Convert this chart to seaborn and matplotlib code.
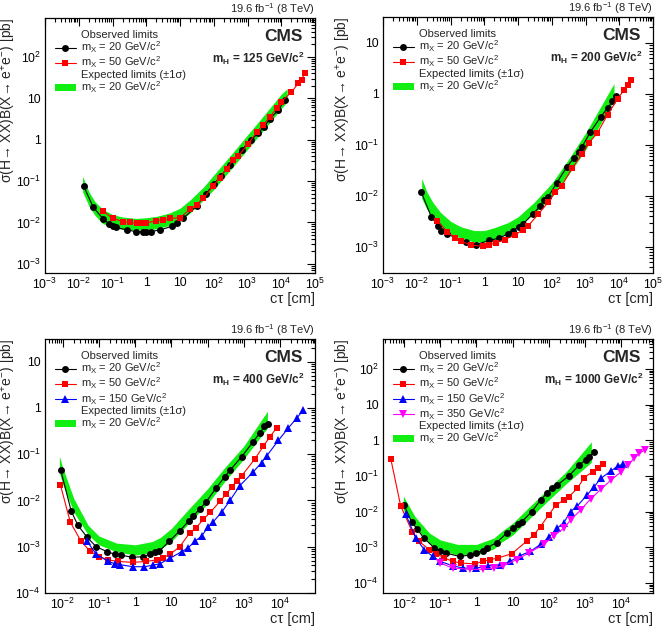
import numpy as np
import pandas as pd
import matplotlib
matplotlib.use("Agg")
import matplotlib.pyplot as plt
import seaborn as sns
from matplotlib.lines import Line2D
from matplotlib.patches import Patch
from matplotlib.ticker import LogLocator, FuncFormatter, NullFormatter

# ---- data ----
# mH = 125
ct_125_m20 = [0.014, 0.027, 0.054, 0.08, 0.105, 0.13, 0.26, 0.5, 0.8, 1.0, 1.35, 2.6, 5.6, 8, 12.5,
              31, 60, 100, 160, 300, 680, 1300, 2100, 3000, 4700, 8200, 13000]
xs_125_m20 = [0.075, 0.023, 0.012, 0.009, 0.0083, 0.0076, 0.0066, 0.006, 0.006, 0.006, 0.006, 0.0066,
              0.008, 0.0096, 0.0125, 0.025, 0.05, 0.085, 0.13, 0.25, 0.57, 1.0, 1.45, 2.0, 3.2, 5.3, 9]
ct_125_m50 = [0.051, 0.1, 0.21, 0.33, 0.52, 0.82, 1.0, 2.0, 3.2, 5, 10, 20, 31, 49, 97, 150, 240, 380,
              530, 1050, 1860, 2950, 4700, 7300, 10000, 20000, 32000, 40000, 50000]
xs_125_m50 = [0.019, 0.0127, 0.0104, 0.01, 0.0095, 0.0095, 0.0097, 0.011, 0.0117, 0.0125, 0.013, 0.021,
              0.027, 0.038, 0.076, 0.12, 0.2, 0.33, 0.4, 0.8, 1.5, 2.3, 3.6, 5.8, 8.3, 14, 23, 28, 40]
band_ct_125 = [0.013, 0.02, 0.03, 0.05, 0.1, 0.2, 0.5, 1, 2, 5, 10, 20, 50, 100, 300, 1000, 3000, 10000, 15000]
band_lo_125 = [0.055, 0.025, 0.015, 0.0095, 0.0075, 0.0068, 0.0065, 0.0066, 0.007, 0.0085, 0.011, 0.017,
               0.035, 0.062, 0.18, 0.58, 1.7, 5.6, 8.3]
band_hi_125 = [0.13, 0.055, 0.032, 0.021, 0.0155, 0.0135, 0.0125, 0.013, 0.014, 0.017, 0.022, 0.035,
               0.072, 0.14, 0.4, 1.3, 3.8, 12.5, 17]

# mH = 200
ct_200_m20 = [0.0135, 0.027, 0.043, 0.054, 0.08, 0.28, 0.56, 1.4, 2.8, 5, 7, 11, 14, 28, 45, 59, 79,
              140, 280, 450, 630, 800, 1400, 2800, 4500, 6300, 8000]
xs_200_m20 = [0.012, 0.0039, 0.0026, 0.0021, 0.0018, 0.00125, 0.00111, 0.00135, 0.0015, 0.0018, 0.0021,
              0.0025, 0.0028, 0.0045, 0.0063, 0.0083, 0.0097, 0.018, 0.037, 0.055, 0.074, 0.093, 0.18,
              0.35, 0.53, 0.71, 0.9]
ct_200_m50 = [0.04, 0.08, 0.14, 0.2, 0.4, 0.9, 1.4, 2.2, 4, 8, 14, 20, 40, 80, 126, 200, 400, 800, 1260,
              2240, 4500, 8900, 14000, 18000, 22000]
xs_200_m50 = [0.0033, 0.002, 0.0015, 0.0013, 0.0011, 0.00103, 0.0011, 0.0012, 0.0014, 0.0017, 0.0022,
              0.0026, 0.0044, 0.0077, 0.0117, 0.016, 0.035, 0.066, 0.11, 0.17, 0.39, 0.79, 1.2, 1.5, 1.9]
band_ct_200 = [0.014, 0.02, 0.03, 0.05, 0.1, 0.2, 0.5, 1, 2, 5, 10, 30, 100, 300, 1000, 3000, 7000]
band_lo_200 = [0.009, 0.0055, 0.0036, 0.0025, 0.0018, 0.0015, 0.00125, 0.00125, 0.0014, 0.0019, 0.0025,
               0.0045, 0.0096, 0.025, 0.08, 0.28, 0.75]
band_hi_200 = [0.022, 0.012, 0.0075, 0.0048, 0.0032, 0.0025, 0.0021, 0.0021, 0.0024, 0.003, 0.0039,
               0.0075, 0.0177, 0.05, 0.17, 0.6, 1.6]

# mH = 400
ct_400_m20 = [0.0087, 0.017, 0.026, 0.047, 0.083, 0.17, 0.27, 0.41, 0.83, 1.66, 2.5, 3.5, 4.6, 8.6, 17,
              30, 40, 61, 90, 175, 300, 415, 880, 1750, 2800, 3700, 4600]
xs_400_m20 = [0.045, 0.0059, 0.0029, 0.0016, 0.001, 0.00078, 0.00069, 0.00066, 0.00059, 0.00061, 0.00069,
              0.00076, 0.0008, 0.0013, 0.0022, 0.0036, 0.0046, 0.0066, 0.0092, 0.019, 0.033, 0.045, 0.089,
              0.18, 0.29, 0.4, 0.45]
ct_400_m50 = [0.0085, 0.016, 0.032, 0.055, 0.1, 0.18, 0.33, 0.87, 2, 3.9, 5.9, 9, 17, 32, 49, 76, 120,
              220, 330, 460, 630, 870, 2000, 3500, 5300, 8100]
xs_400_m50 = [0.022, 0.0034, 0.0013, 0.00082, 0.00061, 0.00052, 0.00048, 0.00046, 0.00048, 0.00052,
              0.00058, 0.00068, 0.001, 0.002, 0.0026, 0.0039, 0.0056, 0.0096, 0.014, 0.0192, 0.027, 0.034,
              0.078, 0.15, 0.24, 0.37]
ct_400_m150 = [0.047, 0.083, 0.18, 0.27, 0.37, 0.87, 1.8, 3.1, 4.8, 9, 19, 29, 44, 68, 104, 145, 245,
               415, 780, 1800, 3100, 4300, 9100, 17000, 29000, 44000]
xs_400_m150 = [0.0013, 0.00069, 0.00048, 0.00043, 0.00041, 0.00037, 0.00037, 0.0004, 0.00043, 0.00056,
               0.00078, 0.00095, 0.0013, 0.0017, 0.0027, 0.0035, 0.0056, 0.01, 0.021, 0.041, 0.066, 0.092,
               0.2, 0.37, 0.6, 0.9]
band_ct_400 = [0.008, 0.01, 0.02, 0.05, 0.1, 0.3, 1, 3, 5, 10, 30, 100, 300, 1000, 4500]
band_lo_400 = [0.04, 0.022, 0.0056, 0.0018, 0.0011, 0.00078, 0.00066, 0.00075, 0.0009, 0.0013, 0.0032,
               0.0085, 0.026, 0.079, 0.37]
band_hi_400 = [0.09, 0.05, 0.011, 0.0029, 0.0017, 0.0012, 0.0011, 0.0013, 0.0016, 0.0025, 0.0065, 0.018,
               0.052, 0.15, 0.85]

# mH = 1000
ct_1000_m20 = [0.01, 0.016, 0.023, 0.035, 0.069, 0.1, 0.14, 0.34, 0.65, 1.0, 1.5, 1.9, 3.6, 6.9, 10.5,
               14.5, 18, 34, 59, 90, 120, 170, 360, 690, 1050, 1300, 1800]
xs_1000_m20 = [0.015, 0.0052, 0.0032, 0.0018, 0.00095, 0.00076, 0.00069, 0.00055, 0.0006, 0.00069, 0.0008,
               0.00095, 0.00135, 0.0025, 0.0034, 0.0045, 0.0052, 0.01, 0.021, 0.033, 0.045, 0.055, 0.1,
               0.2, 0.28, 0.33, 0.47]
ct_1000_m50 = [0.0043, 0.008, 0.017, 0.026, 0.05, 0.076, 0.13, 0.22, 0.38, 0.89, 1.5, 2.4, 4, 9.5, 25, 38,
               59, 100, 155, 260, 360, 620, 950, 1630, 2240, 3100]
xs_1000_m50 = [0.29, 0.0145, 0.0026, 0.00145, 0.00085, 0.00066, 0.0005, 0.0004, 0.00036, 0.00034, 0.0004,
               0.00045, 0.0005, 0.00066, 0.0015, 0.0022, 0.0038, 0.0081, 0.015, 0.021, 0.026, 0.045, 0.09,
               0.13, 0.17, 0.22]
ct_1000_m150 = [0.011, 0.021, 0.036, 0.062, 0.1, 0.22, 0.43, 1, 2.1, 4.5, 8.5, 16, 31, 59, 100, 170, 260,
                400, 620, 1170, 1800, 2750, 5300, 8100, 11000]
xs_1000_m150 = [0.0085, 0.0018, 0.00085, 0.00055, 0.0004, 0.0003, 0.00026, 0.00026, 0.0003, 0.00032,
                0.0004, 0.00058, 0.00077, 0.0012, 0.0019, 0.0034, 0.0049, 0.01, 0.0145, 0.03, 0.05, 0.085,
                0.14, 0.19, 0.21]
ct_1000_m350 = [0.1, 0.22, 0.65, 1.5, 3, 5.5, 13, 28, 73, 138, 260, 400, 760, 1450, 2750, 5300, 10000,
                15000, 23000, 32000, 45000]
xs_1000_m350 = [0.00036, 0.00026, 0.00024, 0.00024, 0.00026, 0.0003, 0.00045, 0.00069, 0.0012, 0.0021,
                0.0034, 0.0058, 0.011, 0.023, 0.042, 0.077, 0.13, 0.2, 0.31, 0.43, 0.53]
band_ct_1000 = [0.0095, 0.02, 0.05, 0.1, 0.3, 1, 3, 5, 10, 30, 100, 300, 1500]
band_lo_1000 = [0.011, 0.0038, 0.0013, 0.00085, 0.0006, 0.0006, 0.0009, 0.0014, 0.0022, 0.0065, 0.021,
                0.06, 0.24]
band_hi_1000 = [0.027, 0.0072, 0.0025, 0.0016, 0.0012, 0.0012, 0.0018, 0.0028, 0.0047, 0.014, 0.045,
                0.13, 0.9]

# ---- style ----
sns.set_theme(style="white")
plt.rcParams["font.family"] = ["Liberation Sans", "DejaVu Sans"]
plt.rcParams["mathtext.fontset"] = "custom"
plt.rcParams["mathtext.rm"] = "Liberation Sans"
plt.rcParams["mathtext.it"] = "Liberation Sans:italic"
plt.rcParams["mathtext.bf"] = "Liberation Sans:bold"

GREEN = "#11ee11"
series_style = {
    20: dict(color="black", marker="o", ms=5.0, label="m$_{\\rm X}$ = 20 GeV/c$^{2}$"),
    50: dict(color="#ff0000", marker="s", ms=4.6, label="m$_{\\rm X}$ = 50 GeV/c$^{2}$"),
    150: dict(color="#0000ff", marker="^", ms=5.2, label="m$_{\\rm X}$ = 150 GeV/c$^{2}$"),
    350: dict(color="#ff00ff", marker="v", ms=5.2, label="m$_{\\rm X}$ = 350 GeV/c$^{2}$"),
}

# box = (left, right, top, bottom) in pixels; ylab_x = right edge of y label in pixels
panels = [
    dict(mh=125, box=(45, 315, 18, 273), ylab_x=18, xlim=(1e-3, 1e5), ylim=(6e-4, 870),
         series={20: (ct_125_m20, xs_125_m20), 50: (ct_125_m50, xs_125_m50)},
         band=(band_ct_125, band_lo_125, band_hi_125)),
    dict(mh=200, box=(383, 653, 17, 273), ylab_x=353, xlim=(1e-3, 1e5), ylim=(3.1e-4, 32),
         series={20: (ct_200_m20, xs_200_m20), 50: (ct_200_m50, xs_200_m50)},
         band=(band_ct_200, band_lo_200, band_hi_200)),
    dict(mh=400, box=(45, 315, 339, 593), ylab_x=18, xlim=(3.2e-3, 9.3e4), ylim=(1e-4, 31),
         series={20: (ct_400_m20, xs_400_m20), 50: (ct_400_m50, xs_400_m50),
                 150: (ct_400_m150, xs_400_m150)},
         band=(band_ct_400, band_lo_400, band_hi_400)),
    dict(mh=1000, box=(383, 653, 339, 593), ylab_x=353, xlim=(2.6e-3, 7.6e4), ylim=(5.2e-5, 690),
         series={20: (ct_1000_m20, xs_1000_m20), 50: (ct_1000_m50, xs_1000_m50),
                 150: (ct_1000_m150, xs_1000_m150), 350: (ct_1000_m350, xs_1000_m350)},
         band=(band_ct_1000, band_lo_1000, band_hi_1000)),
]


def root_fmt(v, pos):
    e = int(round(np.log10(v)))
    if e == 0:
        return "1"
    if e == 1:
        return "10"
    return "10$^{%d}$" % e


def decades(lo, hi):
    return 10.0 ** np.arange(np.ceil(np.log10(lo) - 1e-9), np.floor(np.log10(hi) + 1e-9) + 1)


W, H = 663, 628
fig = plt.figure(figsize=(W / 100, H / 100), dpi=100)

for p in panels:
    l, r, t, b = p["box"]
    ax = fig.add_axes([l / W, 1 - b / H, (r - l) / W, (b - t) / H])
    ax.set_xscale("log")
    ax.set_yscale("log")

    bx, blo, bhi = p["band"]
    ax.fill_between(bx, blo, bhi, color=GREEN, linewidth=0, zorder=1)

    for mx, (cx, cy) in p["series"].items():
        st = series_style[mx]
        df = pd.DataFrame({"ct": cx, "xs": cy})
        sns.lineplot(data=df, x="ct", y="xs", ax=ax, color=st["color"], marker=st["marker"],
                     markersize=st["ms"], markeredgewidth=0, linewidth=0.8, sort=False, zorder=3)

    # only label the decades inside the frame
    ax.set_xticks(decades(*p["xlim"]))
    ax.set_yticks(decades(*p["ylim"]))
    ax.xaxis.set_minor_locator(LogLocator(base=10, subs=np.arange(2, 10), numticks=100))
    ax.yaxis.set_minor_locator(LogLocator(base=10, subs=np.arange(2, 10), numticks=100))
    ax.xaxis.set_major_formatter(FuncFormatter(root_fmt))
    ax.yaxis.set_major_formatter(FuncFormatter(root_fmt))
    ax.xaxis.set_minor_formatter(NullFormatter())
    ax.yaxis.set_minor_formatter(NullFormatter())
    ax.set_xlim(*p["xlim"])
    ax.set_ylim(*p["ylim"])
    ax.tick_params(which="both", direction="in", top=True, right=True, colors="black",
                   labelsize=8.8, width=0.8, pad=3)
    ax.tick_params(which="major", length=6)
    ax.tick_params(which="minor", length=3)
    for s in ax.spines.values():
        s.set_linewidth(0.9)
        s.set_color("black")

    ax.set_xlabel("cτ [cm]", loc="right", fontsize=10.5, labelpad=0)
    ax.set_ylabel("σ(H→ XX)B(X→ e$^{+}$e$^{-}$) [pb]", loc="top", fontsize=10)
    ax.yaxis.set_label_coords((p["ylab_x"] - l) / (r - l), 1.0)

    ax.annotate("19.6 fb$^{-1}$ (8 TeV)", xy=(1, 1), xycoords="axes fraction", xytext=(0, 1),
                textcoords="offset points", ha="right", va="bottom", fontsize=8)
    ax.annotate("CMS", xy=(1, 1), xycoords="axes fraction", xytext=(-9, -13),
                textcoords="offset points", ha="right", va="center", fontsize=12.5,
                fontweight="bold")
    ax.annotate("m$_{\\bf H}$ = %d GeV/c$^{\\bf 2}$" % p["mh"], xy=(1, 1), xycoords="axes fraction",
                xytext=(-7, -29), textcoords="offset points", ha="right", va="center",
                fontsize=8.5, fontweight="bold")

    blank = Line2D([], [], linestyle="none")
    handles = [blank]
    labels = ["Observed limits"]
    for mx in p["series"]:
        st = series_style[mx]
        handles.append(Line2D([], [], color=st["color"], marker=st["marker"], markersize=st["ms"],
                              markeredgewidth=0, linewidth=0.8))
        labels.append(st["label"])
    handles += [blank, Patch(facecolor=GREEN, edgecolor="none")]
    labels += ["Expected limits (±1σ)", series_style[20]["label"]]
    ax.legend(handles, labels, loc="upper left", bbox_to_anchor=(0.02, 0.97), frameon=False,
              fontsize=8, handlelength=1.9, handleheight=0.6, handletextpad=0.45,
              labelspacing=-0.04, borderaxespad=0.2, borderpad=0.2)

fig.savefig("out.png", dpi=100)
